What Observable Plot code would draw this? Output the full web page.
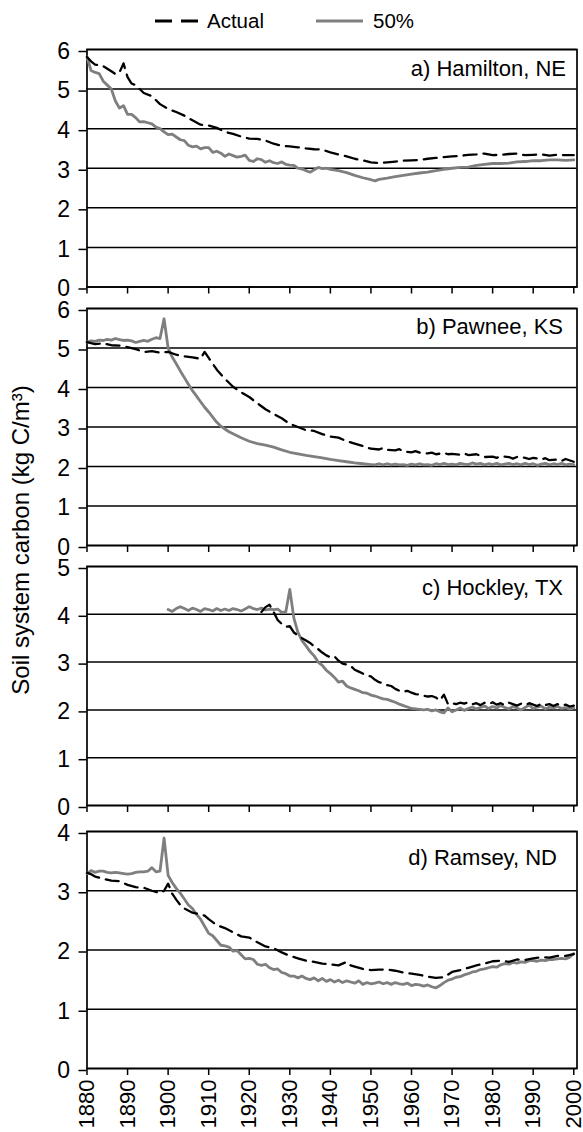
<!DOCTYPE html>
<html>
<head>
<meta charset="utf-8">
<script src="https://cdn.jsdelivr.net/npm/d3@7"></script>
<script src="https://cdn.jsdelivr.net/npm/@observablehq/plot@0.6"></script>
<style>
  html, body { margin: 0; padding: 0; background: #fff; }
  body { width: 583px; height: 1132px; overflow: hidden; font-family: "Liberation Sans", Arial, sans-serif; color: #000; }
  #root { position: relative; width: 583px; height: 1132px; }
  .panel { position: absolute; left: 0; }
  svg { overflow: visible; }
</style>
</head>
<body>
<div id="root"></div>
<script>
// ---- Data (year, soil system carbon kg C/m³) ----
const years = d3.range(1880, 2001, 10);
const seriesNames = ["Actual", "50%"];
const panelNames = ["a) Hamilton, NE", "b) Pawnee, KS", "c) Hockley, TX", "d) Ramsey, ND"];
const yMaxima = [6, 6, 5, 4];

const hamiltonActual = [[1880,5.81],[1881,5.70],[1882,5.62],[1884,5.58],[1886,5.45],[1887,5.38],[1888,5.42],[1889,5.65],[1890,5.30],[1891,5.14],[1892,5.10],[1894,4.90],[1896,4.82],[1898,4.62],[1900,4.50],[1902,4.42],[1904,4.33],[1906,4.21],[1908,4.10],[1910,4.08],[1912,4.02],[1914,3.92],[1916,3.87],[1918,3.80],[1920,3.75],[1922,3.74],[1924,3.70],[1926,3.62],[1928,3.57],[1930,3.55],[1932,3.53],[1934,3.50],[1936,3.48],[1938,3.47],[1940,3.40],[1942,3.35],[1944,3.30],[1946,3.24],[1948,3.20],[1950,3.15],[1952,3.13],[1954,3.15],[1956,3.17],[1958,3.19],[1960,3.20],[1962,3.21],[1964,3.24],[1966,3.26],[1968,3.28],[1970,3.30],[1972,3.31],[1974,3.34],[1976,3.35],[1978,3.37],[1980,3.33],[1982,3.34],[1984,3.36],[1986,3.37],[1988,3.33],[1990,3.34],[1992,3.35],[1994,3.32],[1996,3.34],[1998,3.33],[2000,3.33]];

const hamilton50 = [[1880,5.81],[1881,5.47],[1882,5.42],[1883,5.39],[1884,5.20],[1885,5.10],[1886,5.00],[1887,4.70],[1888,4.52],[1889,4.58],[1890,4.36],[1891,4.36],[1892,4.28],[1893,4.17],[1894,4.18],[1895,4.15],[1896,4.12],[1897,4.04],[1898,4.00],[1899,3.92],[1900,3.85],[1901,3.86],[1902,3.79],[1903,3.72],[1904,3.70],[1905,3.58],[1906,3.54],[1907,3.56],[1908,3.49],[1909,3.52],[1910,3.52],[1911,3.40],[1912,3.43],[1913,3.38],[1914,3.30],[1915,3.36],[1916,3.32],[1917,3.28],[1918,3.30],[1919,3.33],[1920,3.20],[1921,3.17],[1922,3.24],[1923,3.22],[1924,3.15],[1925,3.19],[1926,3.14],[1927,3.12],[1928,3.16],[1929,3.10],[1930,3.08],[1931,3.07],[1932,3.00],[1933,2.98],[1934,2.94],[1935,2.90],[1936,2.96],[1937,3.02],[1938,2.99],[1939,3.00],[1940,2.97],[1942,2.94],[1944,2.89],[1946,2.82],[1948,2.76],[1950,2.71],[1951,2.68],[1952,2.72],[1954,2.75],[1956,2.79],[1958,2.82],[1960,2.85],[1962,2.88],[1964,2.90],[1966,2.94],[1968,2.97],[1970,3.00],[1972,3.02],[1974,3.03],[1976,3.07],[1978,3.10],[1980,3.12],[1982,3.12],[1984,3.13],[1986,3.16],[1988,3.17],[1990,3.19],[1992,3.19],[1994,3.21],[1996,3.21],[1998,3.20],[2000,3.21]];

const pawneeActual = [[1880,5.15],[1882,5.10],[1884,5.12],[1886,5.07],[1888,5.06],[1890,5.02],[1892,4.97],[1894,4.90],[1896,4.92],[1898,4.88],[1900,4.90],[1902,4.83],[1904,4.79],[1906,4.76],[1908,4.73],[1909,4.90],[1910,4.75],[1912,4.45],[1914,4.22],[1916,4.02],[1918,3.88],[1920,3.76],[1922,3.60],[1924,3.45],[1926,3.33],[1928,3.22],[1930,3.08],[1932,3.00],[1934,2.92],[1936,2.90],[1938,2.82],[1940,2.76],[1942,2.73],[1944,2.64],[1946,2.58],[1948,2.52],[1950,2.45],[1952,2.43],[1953,2.47],[1954,2.42],[1956,2.41],[1957,2.44],[1958,2.38],[1960,2.36],[1961,2.39],[1962,2.35],[1964,2.33],[1965,2.35],[1966,2.31],[1968,2.34],[1969,2.31],[1970,2.32],[1972,2.30],[1973,2.33],[1974,2.29],[1976,2.31],[1977,2.27],[1978,2.24],[1980,2.25],[1981,2.22],[1982,2.26],[1984,2.24],[1985,2.20],[1986,2.24],[1988,2.22],[1989,2.19],[1990,2.22],[1992,2.18],[1993,2.21],[1994,2.16],[1996,2.18],[1997,2.14],[1998,2.19],[2000,2.12]];

const pawnee50 = [[1880,5.15],[1881,5.18],[1882,5.17],[1883,5.20],[1884,5.19],[1885,5.22],[1886,5.20],[1887,5.24],[1888,5.21],[1889,5.19],[1890,5.20],[1891,5.18],[1892,5.14],[1893,5.17],[1894,5.19],[1895,5.17],[1896,5.22],[1897,5.26],[1898,5.24],[1899,5.74],[1900,5.00],[1901,4.77],[1902,4.60],[1903,4.42],[1904,4.25],[1905,4.08],[1906,3.92],[1907,3.78],[1908,3.64],[1909,3.50],[1910,3.38],[1911,3.25],[1912,3.12],[1913,3.02],[1914,2.95],[1915,2.88],[1916,2.83],[1918,2.73],[1920,2.64],[1922,2.58],[1924,2.54],[1926,2.49],[1928,2.42],[1930,2.36],[1932,2.32],[1934,2.28],[1936,2.25],[1938,2.22],[1940,2.18],[1942,2.15],[1944,2.12],[1946,2.09],[1948,2.07],[1950,2.05],[1951,2.04],[1952,2.07],[1953,2.04],[1954,2.07],[1955,2.04],[1956,2.06],[1957,2.04],[1958,2.05],[1959,2.03],[1960,2.06],[1961,2.04],[1962,2.07],[1963,2.04],[1964,2.05],[1965,2.03],[1966,2.07],[1967,2.05],[1968,2.08],[1969,2.05],[1970,2.06],[1971,2.04],[1972,2.08],[1973,2.06],[1974,2.05],[1975,2.09],[1976,2.06],[1977,2.08],[1978,2.04],[1979,2.07],[1980,2.05],[1981,2.08],[1982,2.04],[1983,2.06],[1984,2.08],[1985,2.05],[1986,2.07],[1987,2.04],[1988,2.08],[1989,2.05],[1990,2.07],[1991,2.03],[1992,2.06],[1993,2.08],[1994,2.04],[1995,2.07],[1996,2.05],[1997,2.08],[1998,2.04],[1999,2.06],[2000,2.05]];

const hockleyActual = [[1923,4.05],[1924,4.15],[1925,4.20],[1926,4.05],[1927,3.88],[1928,3.80],[1929,3.74],[1930,3.75],[1931,3.62],[1932,3.56],[1933,3.50],[1934,3.45],[1935,3.40],[1936,3.33],[1937,3.27],[1938,3.20],[1939,3.14],[1940,3.10],[1941,3.12],[1942,3.03],[1943,2.97],[1944,2.95],[1945,2.92],[1946,2.84],[1947,2.80],[1948,2.76],[1949,2.72],[1950,2.70],[1951,2.63],[1952,2.58],[1953,2.56],[1954,2.52],[1955,2.50],[1956,2.44],[1957,2.40],[1958,2.38],[1959,2.40],[1960,2.36],[1961,2.33],[1962,2.32],[1963,2.30],[1964,2.28],[1965,2.29],[1966,2.26],[1967,2.20],[1968,2.32],[1969,2.12],[1970,2.14],[1971,2.12],[1972,2.15],[1973,2.13],[1974,2.16],[1975,2.12],[1976,2.14],[1977,2.10],[1978,2.15],[1979,2.12],[1980,2.16],[1981,2.11],[1982,2.14],[1983,2.10],[1984,2.15],[1985,2.12],[1986,2.09],[1987,2.13],[1988,2.10],[1989,2.14],[1990,2.11],[1991,2.08],[1992,2.13],[1993,2.10],[1994,2.12],[1995,2.08],[1996,2.12],[1997,2.09],[1998,2.11],[1999,2.07],[2000,2.09]];

const hockley50 = [[1900,4.10],[1901,4.06],[1902,4.12],[1903,4.16],[1904,4.12],[1905,4.08],[1906,4.13],[1907,4.10],[1908,4.06],[1909,4.12],[1910,4.10],[1911,4.07],[1912,4.12],[1913,4.08],[1914,4.11],[1915,4.08],[1916,4.12],[1917,4.10],[1918,4.07],[1919,4.11],[1920,4.16],[1921,4.12],[1922,4.10],[1923,4.13],[1924,4.09],[1925,4.11],[1926,4.10],[1927,4.11],[1928,4.04],[1929,4.05],[1930,4.52],[1931,3.92],[1932,3.62],[1933,3.45],[1934,3.34],[1935,3.22],[1936,3.13],[1937,3.00],[1938,2.93],[1939,2.83],[1940,2.76],[1941,2.68],[1942,2.58],[1943,2.60],[1944,2.50],[1945,2.46],[1946,2.43],[1947,2.40],[1948,2.36],[1949,2.35],[1950,2.31],[1951,2.29],[1952,2.26],[1953,2.23],[1954,2.22],[1955,2.19],[1956,2.16],[1957,2.12],[1958,2.09],[1959,2.06],[1960,2.03],[1961,2.02],[1962,2.01],[1963,2.00],[1964,2.01],[1965,1.98],[1966,2.00],[1967,1.96],[1968,1.94],[1969,2.04],[1970,1.96],[1971,2.00],[1972,2.04],[1973,1.99],[1974,2.03],[1975,2.06],[1976,2.02],[1977,2.05],[1978,2.08],[1979,2.03],[1980,2.07],[1981,2.04],[1982,2.09],[1983,2.05],[1984,2.02],[1985,2.07],[1986,2.04],[1987,2.00],[1988,2.05],[1989,2.10],[1990,2.03],[1991,2.06],[1992,2.08],[1993,2.02],[1994,2.06],[1995,2.04],[1996,2.07],[1997,2.03],[1998,2.05],[1999,2.02],[2000,2.04]];

const ramseyActual = [[1880,3.30],[1881,3.28],[1882,3.24],[1884,3.20],[1886,3.17],[1888,3.16],[1890,3.10],[1892,3.06],[1894,3.05],[1896,3.00],[1897,2.98],[1898,2.96],[1899,3.00],[1900,3.12],[1901,2.95],[1902,2.85],[1903,2.76],[1904,2.70],[1906,2.63],[1908,2.60],[1909,2.58],[1910,2.52],[1912,2.42],[1914,2.37],[1916,2.30],[1918,2.23],[1920,2.21],[1922,2.13],[1924,2.06],[1926,2.03],[1928,1.96],[1930,1.90],[1932,1.86],[1934,1.82],[1936,1.80],[1938,1.77],[1940,1.76],[1942,1.74],[1944,1.80],[1945,1.74],[1946,1.72],[1948,1.68],[1950,1.66],[1952,1.67],[1954,1.67],[1956,1.65],[1958,1.62],[1960,1.60],[1962,1.58],[1964,1.55],[1966,1.53],[1968,1.54],[1970,1.63],[1972,1.66],[1974,1.70],[1976,1.74],[1978,1.77],[1980,1.81],[1982,1.82],[1984,1.80],[1986,1.84],[1988,1.83],[1990,1.86],[1992,1.88],[1994,1.87],[1996,1.90],[1998,1.90],[2000,1.93]];

const ramsey50 = [[1880,3.29],[1881,3.34],[1882,3.31],[1883,3.33],[1884,3.33],[1885,3.31],[1886,3.30],[1887,3.31],[1888,3.30],[1889,3.29],[1890,3.28],[1891,3.29],[1892,3.31],[1893,3.32],[1894,3.32],[1895,3.33],[1896,3.39],[1897,3.32],[1898,3.33],[1899,3.89],[1900,3.26],[1901,3.14],[1902,3.04],[1903,2.96],[1904,2.86],[1905,2.76],[1906,2.70],[1907,2.60],[1908,2.52],[1909,2.40],[1910,2.28],[1911,2.24],[1912,2.16],[1913,2.08],[1914,2.07],[1915,2.05],[1916,1.98],[1917,1.99],[1918,1.92],[1919,1.85],[1920,1.86],[1921,1.84],[1922,1.76],[1923,1.74],[1924,1.76],[1925,1.70],[1926,1.67],[1927,1.68],[1928,1.62],[1929,1.60],[1930,1.56],[1931,1.56],[1932,1.53],[1933,1.56],[1934,1.52],[1935,1.50],[1936,1.53],[1937,1.48],[1938,1.52],[1939,1.47],[1940,1.50],[1941,1.46],[1942,1.49],[1943,1.45],[1944,1.48],[1945,1.46],[1946,1.44],[1947,1.48],[1948,1.42],[1949,1.45],[1950,1.43],[1951,1.44],[1952,1.46],[1953,1.43],[1954,1.45],[1955,1.42],[1956,1.45],[1957,1.43],[1958,1.42],[1959,1.44],[1960,1.40],[1961,1.42],[1962,1.41],[1963,1.39],[1964,1.41],[1965,1.38],[1966,1.36],[1967,1.40],[1968,1.45],[1969,1.49],[1970,1.51],[1971,1.54],[1972,1.55],[1973,1.58],[1974,1.60],[1975,1.63],[1976,1.64],[1977,1.67],[1978,1.68],[1979,1.70],[1980,1.72],[1981,1.71],[1982,1.75],[1983,1.77],[1984,1.76],[1985,1.79],[1986,1.78],[1987,1.80],[1988,1.79],[1989,1.82],[1990,1.82],[1991,1.81],[1992,1.83],[1993,1.82],[1994,1.84],[1995,1.84],[1996,1.85],[1997,1.86],[1998,1.85],[1999,1.88],[2000,1.94]];

const actualSeries = [hamiltonActual, pawneeActual, hockleyActual, ramseyActual];
const halfSeries = [hamilton50, pawnee50, hockley50, ramsey50];

// ---- Layout ----
const FONT = '"Liberation Sans", Arial, Helvetica, sans-serif';
const W = 583;
const areaTops = [49, 308, 566, 831];
const areaBottoms = [286.5, 545, 805, 1068];
const labelDx = [-11, -14, -14, -20];
const labelDy = [11, 10, 13, 18];
const MT = 16;
const GRAY = "#7f7f7f";
const DASH = "13,7";

const root = document.getElementById("root");

// Legend (above the charts)
const legend = document.createElement("div");
legend.style.cssText = "position:absolute;left:0;top:0;width:583px;height:40px;";
legend.innerHTML = `
  <svg width="583" height="40" style="position:absolute;left:0;top:0" font-family='${FONT}'>
    <line x1="155" x2="198" y1="21" y2="21" stroke="black" stroke-width="2.8" stroke-dasharray="17,9"/>
    <text x="207" y="28" font-size="20.5">${seriesNames[0]}</text>
    <line x1="316" x2="363" y1="21" y2="21" stroke="${GRAY}" stroke-width="2.8"/>
    <text x="373" y="28" font-size="20.5">${seriesNames[1]}</text>
  </svg>`;
root.appendChild(legend);

panelNames.forEach((name, i) => {
  const last = i === panelNames.length - 1;
  const innerH = areaBottoms[i] - areaTops[i];
  const MB = last ? (1132 - areaBottoms[i]) : 12;
  const yTicks = d3.range(0, yMaxima[i] + 1);
  const chart = Plot.plot({
    width: W,
    height: MT + innerH + MB,
    marginLeft: 86.5,
    marginRight: 6.5,
    marginTop: MT,
    marginBottom: MB,
    style: { fontFamily: FONT, fontSize: "23px", color: "black", background: "transparent", overflow: "visible" },
    x: { domain: [1880, 2000.8] },
    y: { domain: [0, yMaxima[i]] },
    marks: [
      Plot.ruleY(yTicks, { stroke: "black", strokeWidth: 1.5 }),
      Plot.frame({ stroke: "black", strokeWidth: 1.7 }),
      Plot.axisY({ ticks: yTicks, tickSize: 8, tickPadding: 9, tickFormat: d => String(d), fontSize: 23, dy: 2, label: null, strokeWidth: 1.5 }),
      last
        ? Plot.axisX({ ticks: years, tickSize: 7, tickPadding: 4, tickRotate: -90, tickFormat: d => String(d), fontSize: 22, label: null, strokeWidth: 1.5 })
        : Plot.axisX({ ticks: years, tickSize: 7, tickFormat: () => "", label: null, strokeWidth: 1.5 }),
      Plot.line(halfSeries[i], { x: d => d[0], y: d => d[1], stroke: GRAY, strokeWidth: 2.8, curve: "linear" }),
      Plot.line(actualSeries[i], { x: d => d[0], y: d => d[1], stroke: "black", strokeWidth: 2.3, strokeDasharray: DASH }),
      Plot.text([name], { frameAnchor: "top-right", dx: labelDx[i], dy: labelDy[i], fontSize: 22, fill: "black" })
    ]
  });
  chart.classList.add("panel");
  chart.style.position = "absolute";
  chart.style.left = "0px";
  chart.style.top = (areaTops[i] - MT) + "px";
  root.appendChild(chart);
});

// Y-axis title
const title = document.createElementNS("http://www.w3.org/2000/svg", "svg");
title.setAttribute("width", "45");
title.setAttribute("height", "1132");
title.style.cssText = "position:absolute;left:0;top:0;overflow:visible";
title.innerHTML = `<text transform="translate(29,540) rotate(-90)" text-anchor="middle" font-family='${FONT}' font-size="24">Soil system carbon (kg C/m³)</text>`;
root.appendChild(title);
</script>
</body>
</html>
